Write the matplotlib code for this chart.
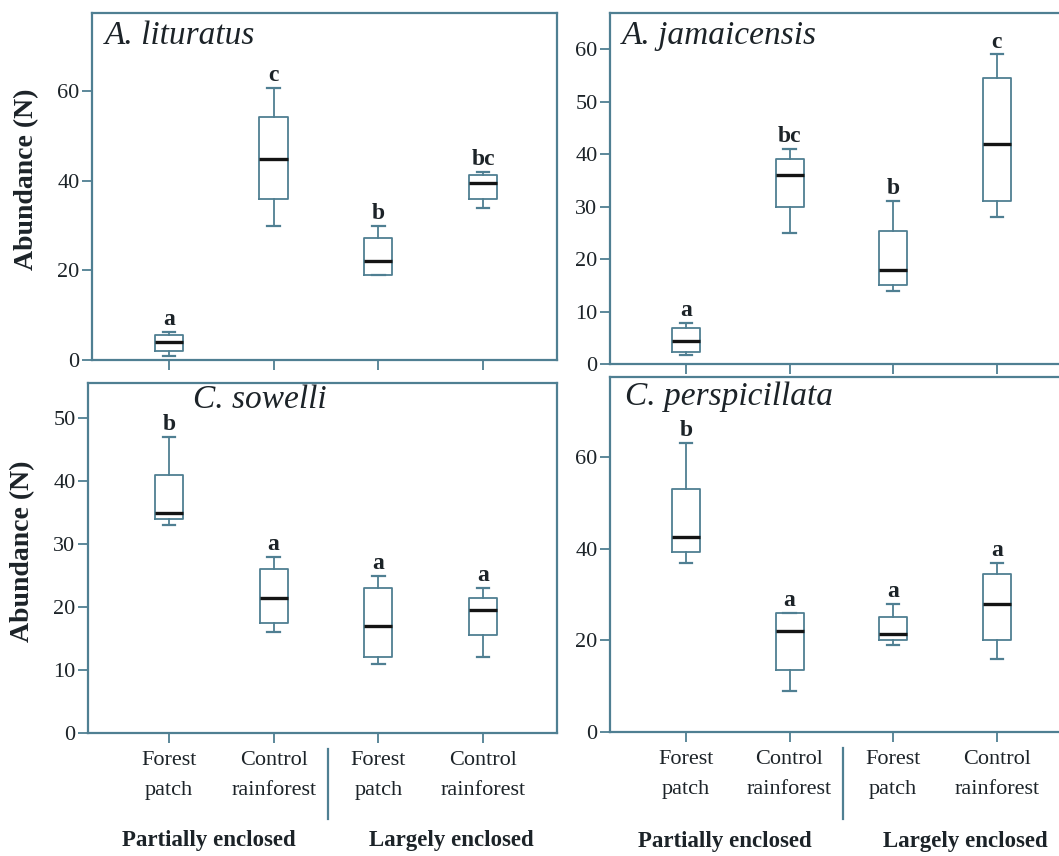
import matplotlib
matplotlib.use('Agg')
import matplotlib.pyplot as plt
import matplotlib.transforms as mtransforms

plt.rcParams['font.family'] = ['Liberation Serif', 'DejaVu Serif']

LINE = '#4f7f92'
TEXT = '#1c2328'
MEDIAN = '#141414'

# x categories, shared by all four panels
groups = ['Forest\npatch', 'Control\nrainforest', 'Forest\npatch', 'Control\nrainforest']
enclosure = ['Partially enclosed', 'Largely enclosed']

# each row: whisker low, Q1, median, Q3, whisker high
lituratus = [
    [1, 2, 4, 5.6, 6.3],
    [30, 36, 45, 54.3, 60.8],
    [19, 19, 22, 27.3, 30],
    [34, 36, 39.5, 41.3, 42],
]
lituratus_letters = ['a', 'c', 'b', 'bc']

jamaicensis = [
    [1.8, 2.3, 4.4, 6.9, 7.8],
    [25, 30, 36, 39, 41],
    [14, 15, 18, 25.4, 31],
    [28, 31, 42, 54.5, 59],
]
jamaicensis_letters = ['a', 'bc', 'b', 'c']

sowelli = [
    [33, 34, 35, 41, 47],
    [16, 17.5, 21.5, 26, 28],
    [11, 12, 17, 23, 25],
    [12, 15.5, 19.5, 21.5, 23],
]
sowelli_letters = ['b', 'a', 'a', 'a']

perspicillata = [
    [37, 39.3, 42.5, 53, 63],
    [9, 13.5, 22, 26, 26],
    [19, 20, 21.5, 25, 28],
    [16, 20, 28, 34.5, 37],
]
perspicillata_letters = ['b', 'a', 'a', 'a']

W, H = 1059, 856
fig = plt.figure(figsize=(W / 100, H / 100), dpi=100)


def px_axes(left, top, right, bottom):
    return fig.add_axes([left / W, 1 - bottom / H, (right - left) / W, (bottom - top) / H])


def to_stats(rows):
    stats = []
    for lo, q1, med, q3, hi in rows:
        stats.append(dict(whislo=lo, q1=q1, med=med, q3=q3, whishi=hi, fliers=[]))
    return stats


def draw_panel(ax, rows, letters, title, title_xy, ylim, yticks, xlim, bottom_row, ylabel):
    pos = [1, 2, 3, 4]
    ax.bxp(to_stats(rows), positions=pos, widths=0.27, capwidths=0.12,
           showfliers=False,
           boxprops=dict(color=LINE, lw=1.3),
           whiskerprops=dict(color=LINE, lw=1.3),
           capprops=dict(color=LINE, lw=1.6),
           medianprops=dict(color=MEDIAN, lw=2.4))
    for x, r, lab in zip(pos, rows, letters):
        ax.annotate(lab, (x, r[4]), xytext=(0, 5), textcoords='offset points',
                    ha='center', va='baseline', fontsize=17, fontweight='bold', color=TEXT)

    ax.set_xlim(*xlim)
    ax.set_ylim(*ylim)
    ax.set_yticks(yticks)
    ax.set_xticks(pos)
    for s in ax.spines.values():
        s.set_color(LINE)
        s.set_linewidth(1.6)
    ax.tick_params(direction='out', length=7, width=1.3, color=LINE,
                   labelsize=16, labelcolor=TEXT, pad=2)
    ax.text(title_xy[0], title_xy[1], title, transform=ax.transAxes, ha='left', va='center',
            fontsize=24, fontstyle='italic', color=TEXT)

    if ylabel:
        ax.set_ylabel('Abundance (N)', fontsize=20, fontweight='bold', color=TEXT)
        ax.yaxis.set_label_coords(-0.113, 0.52)

    if bottom_row:
        ax.set_xticklabels(groups, linespacing=1.75)
        ax.tick_params(axis='x', pad=6)
        trans = mtransforms.blended_transform_factory(ax.transData, ax.transAxes)
        ax.plot([2.52, 2.52], [-0.045, -0.245], transform=trans, clip_on=False,
                color=LINE, lw=1.6)
        for x, name in zip([1.38, 3.7], enclosure):
            ax.text(x, -0.308, name, transform=trans, ha='center', va='center',
                    fontsize=16.5, fontweight='bold', color=TEXT)
    else:
        ax.set_xticklabels([])


ax_tl = px_axes(92, 13, 557, 360)
ax_tr = px_axes(610, 13, 1062, 364)
ax_bl = px_axes(88, 383, 557, 733)
ax_br = px_axes(610, 377, 1062, 732)

draw_panel(ax_tl, lituratus, lituratus_letters, 'A. lituratus', (0.028, 0.934),
           (0, 77.5), [0, 20, 40, 60], (0.265, 4.707), False, True)
draw_panel(ax_tr, jamaicensis, jamaicensis_letters, 'A. jamaicensis', (0.027, 0.934),
           (0, 66.9), [0, 10, 20, 30, 40, 50, 60], (0.267, 4.63), False, False)
draw_panel(ax_bl, sowelli, sowelli_letters, 'C. sowelli', (0.224, 0.951),
           (0, 55.6), [0, 10, 20, 30, 40, 50], (0.226, 4.707), True, True)
draw_panel(ax_br, perspicillata, perspicillata_letters, 'C. perspicillata', (0.033, 0.944),
           (0, 77.5), [0, 20, 40, 60], (0.267, 4.63), True, False)

fig.savefig('out.png', dpi=100)
